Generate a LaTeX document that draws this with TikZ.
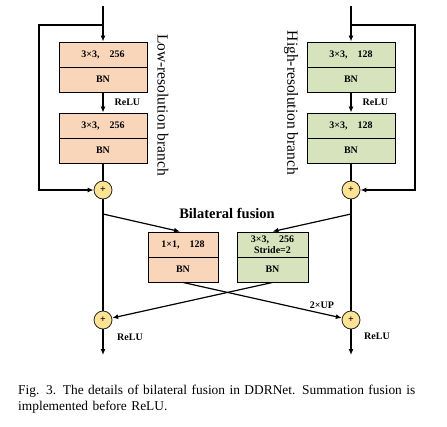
\documentclass[tikz,border=0pt]{standalone}
\usepackage{fontspec}
\setmainfont{Liberation Serif}
\usetikzlibrary{arrows.meta,calc}
\definecolor{peach}{HTML}{F9D5B9}
\definecolor{sage}{HTML}{D7E3BD}
\definecolor{sumy}{HTML}{FDE393}
\begin{document}
\begin{tikzpicture}[x=1pt,y=-1pt,
  half/.style={draw=black, line width=0.9pt, minimum height=25pt, inner sep=0pt,
    font=\fontsize{10}{11}\selectfont\bfseries, align=center},
  lowbox/.style={half, fill=peach, minimum width=88pt},
  highbox/.style={half, fill=sage, minimum width=88pt},
  flow/.style={half, fill=peach, minimum width=70pt},
  fhigh/.style={half, fill=sage, minimum width=71pt},
  sum/.style={circle, draw=black!85, fill=sumy, minimum size=18pt, inner sep=0pt,
    line width=0.8pt, font=\fontsize{10}{10}\selectfont\bfseries},
  conn/.style={line width=1.2pt},
  arr/.style={conn, -{Latex[length=6pt,width=5pt]}},
  lbl/.style={font=\fontsize{10}{11}\selectfont\bfseries, inner sep=0pt},
  branchlbl/.style={font=\fontsize{15.5}{16}\selectfont, inner sep=0pt, rotate=-90}]
\useasboundingbox (0,0) rectangle (447,426);

% low-resolution branch
\node[lowbox] (L1a) at (103,54.5) {3×3,\hspace{1em}256};
\node[lowbox] (L1b) at (103,79.5) {BN};
\node[lowbox] (L2a) at (103,125.5) {3×3,\hspace{1em}256};
\node[lowbox] (L2b) at (103,150.5) {BN};
\node[sum] (PL1) at (103,190) {+};
\node[sum] (PL2) at (103,320) {+};
\coordinate (inL) at (103,6);
\coordinate (brL) at (103,25);
\coordinate (fbL) at (39,100);
\coordinate (sL) at (103,214);
\coordinate (outL) at (103,355);
\node[branchlbl] (lowlbl) at (163,105) {Low-resolution branch};

% high-resolution branch
\node[highbox] (H1a) at (351,54.5) {3×3,\hspace{1em}128};
\node[highbox] (H1b) at (351,79.5) {BN};
\node[highbox] (H2a) at (351,125.5) {3×3,\hspace{1em}128};
\node[highbox] (H2b) at (351,150.5) {BN};
\node[sum] (PR1) at (351,190) {+};
\node[sum] (PR2) at (351,320) {+};
\coordinate (inR) at (351,6);
\coordinate (brR) at (351,25);
\coordinate (fbR) at (415,100);
\coordinate (sR) at (351,214);
\coordinate (outR) at (351,355);
\node[branchlbl] (highlbl) at (291,103) {High-resolution branch};

% bilateral fusion
\node[font=\fontsize{14.5}{16}\selectfont\bfseries, inner sep=0pt] (bf) at (227,213) {Bilateral fusion};
\node[flow] (FLa) at (183,244.5) {1×1,\hspace{1em}128};
\node[flow] (FLb) at (183,269.5) {BN};
\node[fhigh] (FRa) at (272.5,244.5) {3×3,\hspace{1em}256\\Stride=2};
\node[fhigh] (FRb) at (272.5,269.5) {BN};

% connectors: low branch
\draw[arr] (inL) -- (L1a);
\draw[arr] (L1b) -- node[lbl, anchor=west, xshift=11pt] (reluL1) {ReLU} (L2a);
\draw[conn] (L2b) -- (PL1);
\draw[arr] (brL) -| (fbL) |- (PL1);
\draw[conn] (PL1) -- (PL2);
\draw[arr] (PL2) -- (outL);

% connectors: high branch
\draw[arr] (inR) -- (H1a);
\draw[arr] (H1b) -- node[lbl, anchor=west, xshift=11pt] (reluH1) {ReLU} (H2a);
\draw[conn] (H2b) -- (PR1);
\draw[arr] (brR) -| (fbR) |- (PR1);
\draw[conn] (PR1) -- (PR2);
\draw[arr] (PR2) -- (outR);

% fusion connectors
\draw[arr] (sL) -- ($(FLa.north)+(-3,0)$);
\draw[arr] (sR) -- (FRa.north);
\draw[arr] (FLb.south) -- (PR2);
\draw[arr] (FRb.south) -- (PL2);

% labels
\node[lbl] (up) at (322,305) {2×UP};
\node[lbl] (reluL2) at (130,337) {ReLU};
\node[lbl] (reluR2) at (377,336) {ReLU};

% caption
\node[anchor=north west, inner sep=0pt, text width=419pt, align=left,
  font=\fontsize{13.4}{16}\selectfont] (cap) at (18,385)
  {\makebox[419pt][s]{Fig. 3.\enspace The details of bilateral fusion in DDRNet. Summation fusion is}\\implemented before ReLU.};
\end{tikzpicture}
\end{document}
